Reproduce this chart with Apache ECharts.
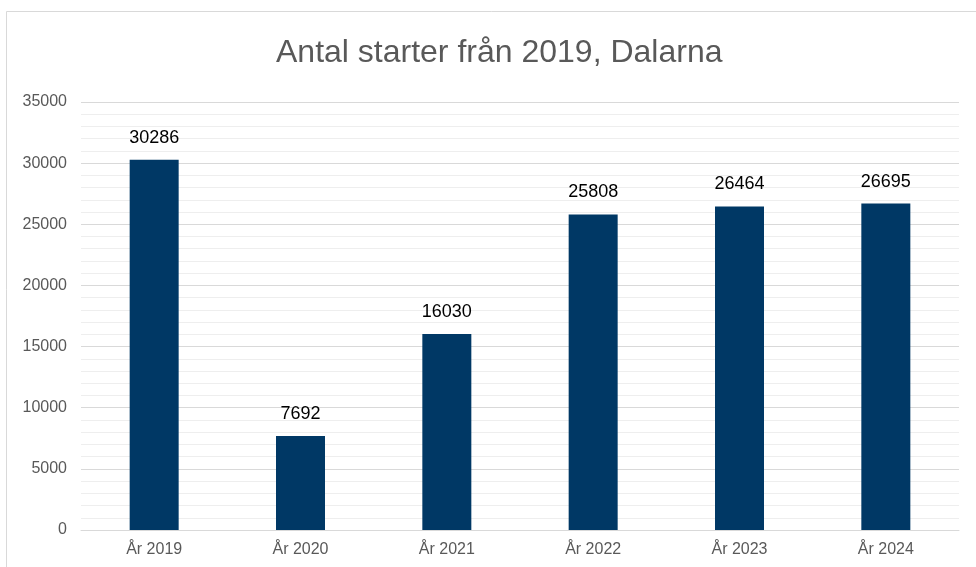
<!DOCTYPE html>
<html><head><meta charset="utf-8">
<script src="https://cdn.jsdelivr.net/npm/echarts@6/dist/echarts.min.js"></script>
<style>html,body{margin:0;padding:0;background:#fff}#c{width:976px;height:567px}</style>
</head><body><div id="c"></div>
<script>
const categories = ['År 2019','År 2020','År 2021','År 2022','År 2023','År 2024'];
const values = [30286, 7692, 16030, 25808, 26464, 26695];
const titleText = 'Antal starter från 2019, Dalarna';

const chart = echarts.init(document.getElementById('c'));
chart.setOption({
  animation: false,
  backgroundColor: '#fff',
  graphic: [{type:'rect', shape:{x:6.5,y:11.5,width:1000,height:600}, style:{fill:'none', stroke:'#d9d9d9', lineWidth:1}, silent:true}],
  title: {text: titleText, left: 271, top: 32, textStyle:{fontFamily:'Liberation Sans, Arial', fontSize:32, fontWeight:'normal', color:'#595959'}},
  grid: {left: 81, right: 17, top: 102, bottom: 37, containLabel: false},
  xAxis: {type:'category', data: categories,
    axisLine:{lineStyle:{color:'#d9d9d9', width:1}}, axisTick:{show:false},
    axisLabel:{color:'#595959', fontSize:16, fontFamily:'Liberation Sans, Arial', margin:12}},
  yAxis: {type:'value', min:0, max:35000, interval:5000,
    axisLine:{show:false}, axisTick:{show:false},
    axisLabel:{color:'#595959', fontSize:16, fontFamily:'Liberation Sans, Arial', margin:14, formatter: v => String(v)},
    splitLine:{lineStyle:{color:'#d9d9d9', width:1}},
    minorTick:{show:false, splitNumber:5},
    minorSplitLine:{show:true, lineStyle:{color:'#eeeeee', width:1}}},
  series: [{type:'bar', data: values, barWidth: 49, itemStyle:{color:'#003865'},
    label:{show:true, position:'top', distance:13, color:'#000', fontSize:18, fontFamily:'Liberation Sans, Arial'}}]
});
</script></body></html>
